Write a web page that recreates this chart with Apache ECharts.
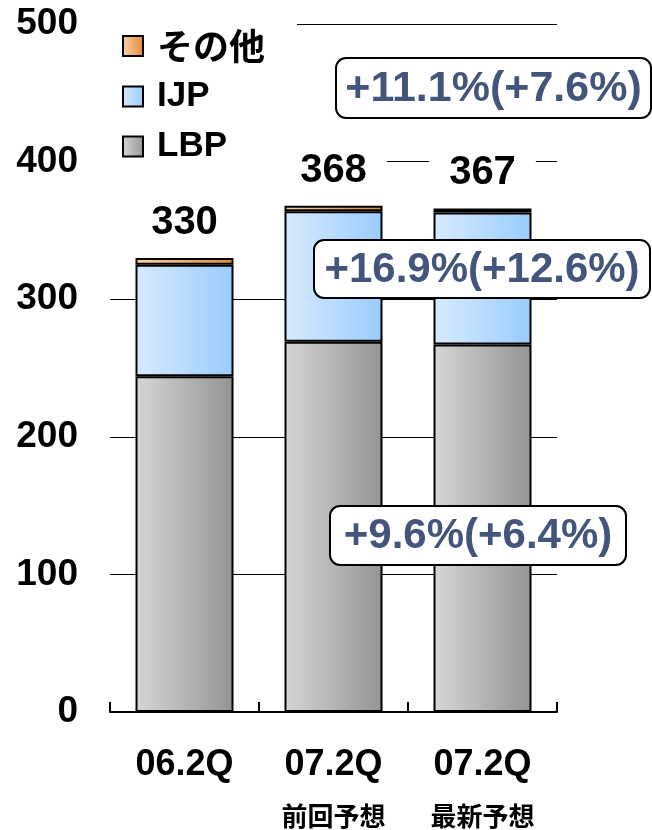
<!DOCTYPE html>
<html><head><meta charset="utf-8">
<script src="https://cdn.jsdelivr.net/npm/echarts@6/dist/echarts.min.js"></script>
<style>html,body{margin:0;padding:0;background:#fff}#c{width:652px;height:830px}</style>
</head><body><div id="c"></div>
<script>
const categories = ['06.2Q', '07.2Q', '07.2Q'];
const subLabels = ['', '前回予想', '最新予想'];
const lbp = [244, 269, 267];
const ijp = [81, 95, 96];
const other = [5, 4, 3];
const totals = [330, 368, 367];
const yTicks = [0, 100, 200, 300, 400, 500];
const notes = ['+11.1%(+7.6%)', '+16.9%(+12.6%)', '+9.6%(+6.4%)'];

const LAT = '"Liberation Sans", Arial, sans-serif';
const CJK = '"Noto Sans CJK JP", sans-serif';
function grad(a, b) {
  return new echarts.graphic.LinearGradient(0, 0, 1, 0, [{offset: 0, color: a}, {offset: 1, color: b}]);
}
const chart = echarts.init(document.getElementById('c'), null, {renderer: 'canvas'});
const border = {borderColor: '#000', borderWidth: 2};

function noteBox(x, y, w, h, text, fs) {
  return {
    type: 'group', z: 100,
    children: [
      {type: 'rect', shape: {x: x, y: y, width: w, height: h, r: 10},
       style: {fill: '#fff', stroke: '#000', lineWidth: 2}, z: 100},
      {type: 'text', z: 101,
       style: {x: x + w / 2, y: y + h / 2 + 1, text: text, fill: '#43557b',
               font: 'bold ' + fs + 'px ' + LAT, align: 'center', verticalAlign: 'middle'}}
    ]
  };
}

chart.setOption({
  animation: false,
  backgroundColor: '#fff',
  grid: {left: 110, right: 95, top: 24, bottom: 118},
  legend: {
    data: ['その他', 'IJP', 'LBP'],
    orient: 'vertical',
    left: 108, top: 20,
    padding: [8, 32, 0, 14],
    backgroundColor: '#fff',
    itemWidth: 20, itemHeight: 20, itemGap: 15,
    icon: 'rect',
    formatter: function (n) { return /[A-Z]/.test(n) ? '{l|' + n + '}' : '{c|' + n + '}'; },
    textStyle: {
      padding: [0, 0, 0, 9],
      rich: {
        l: {fontSize: 35, fontWeight: 'bold', color: '#000', fontFamily: LAT},
        c: {fontSize: 36, fontWeight: 'bold', color: '#000', fontFamily: CJK}
      }
    },
    z: 10
  },
  xAxis: {
    type: 'category',
    data: categories,
    axisLine: {lineStyle: {color: '#000', width: 2}},
    axisTick: {show: true, inside: true, length: 10, lineStyle: {color: '#000', width: 2}},
    axisLabel: {
      margin: 27,
      formatter: function (v, i) { return '{a|' + v + '}\n{b|' + (subLabels[i] || ' ') + '}'; },
      rich: {
        a: {fontSize: 36, fontWeight: 'bold', fontFamily: LAT, color: '#000', lineHeight: 52},
        b: {fontSize: 26, fontWeight: 'bold', fontFamily: CJK, color: '#000', lineHeight: 50}
      }
    }
  },
  yAxis: {
    type: 'value',
    min: yTicks[0], max: yTicks[yTicks.length - 1], interval: 100,
    axisLine: {show: false},
    axisTick: {show: false},
    splitLine: {lineStyle: {color: '#000', width: 1}},
    axisLabel: {margin: 32, fontSize: 37, fontWeight: 'bold', fontFamily: LAT, color: '#000'}
  },
  series: [
    {name: 'LBP', type: 'bar', stack: 't', data: lbp, barWidth: 98,
     itemStyle: Object.assign({color: grad('#d6d6d6', '#949494')}, border)},
    {name: 'IJP', type: 'bar', stack: 't', data: ijp, barWidth: 98,
     itemStyle: Object.assign({color: grad('#d8ebff', '#99ccff')}, border)},
    {name: 'その他', type: 'bar', stack: 't', data: other, barWidth: 98,
     itemStyle: Object.assign({color: grad('#f8d3ad', '#e08a32')}, border),
     label: {show: true, position: 'top', distance: 14,
       formatter: function (p) { return String(totals[p.dataIndex]); },
       fontSize: 40, fontWeight: 'bold', fontFamily: LAT, color: '#000',
       backgroundColor: '#fff', padding: [0, 20, 0, 20], lineHeight: 42}}
  ],
  graphic: [
    noteBox(336, 58, 315, 60, notes[0], 43),
    noteBox(314, 240, 336, 58, notes[1], 42),
    noteBox(330, 506, 296, 59, notes[2], 42)
  ]
});
</script></body></html>
